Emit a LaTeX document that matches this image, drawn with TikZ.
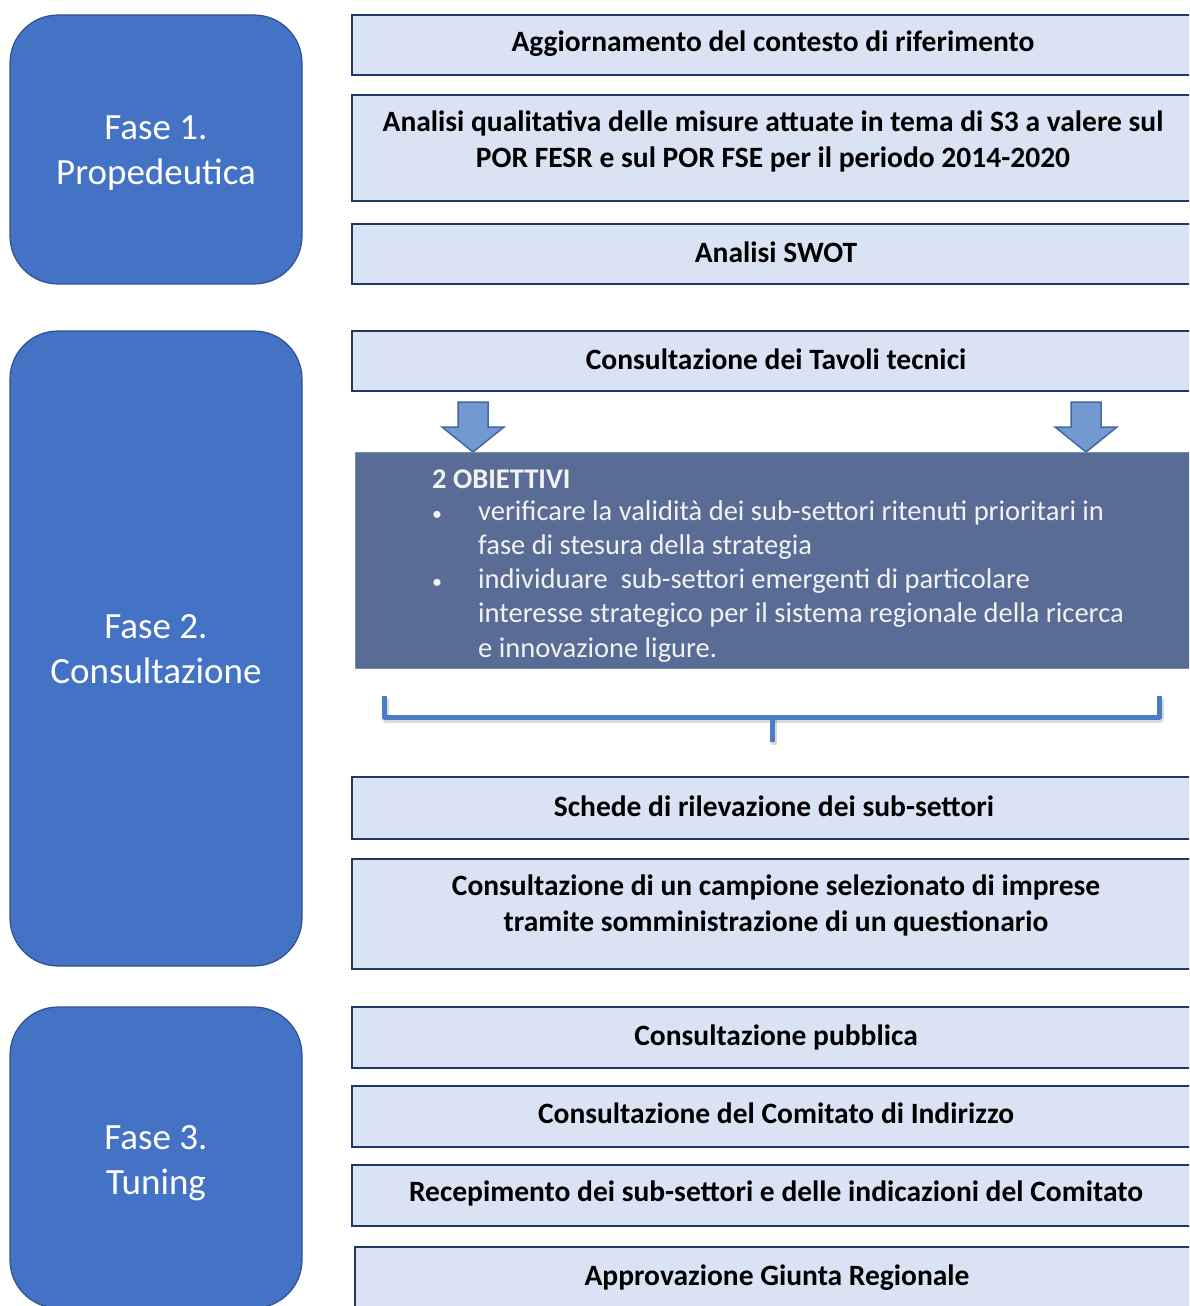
\documentclass[tikz,border=0pt]{standalone}
\usepackage{fontspec}
\setmainfont{Carlito}
\definecolor{phasefill}{RGB}{68,114,196}
\definecolor{phaseborder}{RGB}{47,82,143}
\definecolor{boxfill}{RGB}{218,227,243}
\definecolor{boxborder}{RGB}{31,56,100}
\definecolor{darkfill}{RGB}{89,108,150}
\definecolor{darkborder}{RGB}{120,138,178}
\definecolor{objtext}{RGB}{242,242,242}
\definecolor{arrfill}{RGB}{114,153,210}
\definecolor{arrborder}{RGB}{65,105,160}
\definecolor{bracecol}{RGB}{74,126,196}
\begin{document}
\begin{tikzpicture}[x=1pt,y=-1pt,
  phase/.style={draw=phaseborder, line width=1.2pt, fill=phasefill, rounded corners=48pt,
    minimum width=292pt, inner sep=0pt},
  phasetext/.style={text=white, font=\fontsize{37}{44}\selectfont, anchor=base, inner sep=0pt},
  rbox/.style={draw=boxborder, line width=2.6pt, fill=boxfill, minimum width=843pt, inner sep=0pt},
  rtext/.style={font=\bfseries\fontsize{29.5}{36}\selectfont, text=black, anchor=base, inner sep=0pt},
  darkbox/.style={draw=darkborder, line width=0.8pt, fill=darkfill, inner sep=0pt},
  objline/.style={text=objtext, font=\fontsize{28.5}{34}\selectfont, anchor=base west, inner sep=0pt},
  objbullet/.style={text=objtext, font=\fontsize{20}{20}\selectfont, anchor=base, inner sep=0pt},
  blockarrow/.style={draw=arrborder, line width=1.5pt, fill=arrfill, line join=miter},
  bracesty/.style={draw=bracecol, line width=5pt, line join=round},
  braceshadow/.style={draw=black, opacity=0.15, line width=6pt, line join=round}
]
\clip (0,0) rectangle (1189,1306);
\fill[white] (0,0) rectangle (1189,1306);

% phases
\node[phase, minimum height=269pt] (p1) at (156,149.5) {};
\node[phasetext] (p1a) at (156,139) {Fase 1.};
\node[phasetext] (p1b) at (156,184) {Propedeutica};
\node[phase, minimum height=635pt] (p2) at (156,648.5) {};
\node[phasetext] (p2a) at (156,638) {Fase 2.};
\node[phasetext] (p2b) at (156,683) {Consultazione};
\node[phase, minimum height=301pt] (p3) at (156,1157.5) {};
\node[phasetext] (p3a) at (156,1149) {Fase 3.};
\node[phasetext] (p3b) at (156,1194) {Tuning};

% right boxes
\node[rbox, minimum height=60pt] (b1) at (773.5,45) {};
\node[rtext] (t1) at (773,51.5) {Aggiornamento del contesto di riferimento};
\node[rbox, minimum height=106pt] (b2) at (773.5,148) {};
\node[rtext] (t2a) at (773,131.5) {Analisi qualitativa delle misure attuate in tema di S3 a valere sul};
\node[rtext] (t2b) at (773,167.5) {POR FESR e sul POR FSE per il periodo 2014-2020};
\node[rbox, minimum height=60pt] (b3) at (773.5,254) {};
\node[rtext] (t3) at (776,262.5) {Analisi SWOT};
\node[rbox, minimum height=60pt] (b4) at (773.5,361) {};
\node[rtext] (t4) at (776,369.5) {Consultazione dei Tavoli tecnici};

% block arrows
\coordinate (a1) at (473,402);
\coordinate (a2) at (1086,402);
\foreach \c in {a1,a2}{
  \draw[blockarrow] ([xshift=-15pt]\c) -- ([xshift=15pt]\c) -- ([xshift=15pt,yshift=-25pt]\c)
    -- ([xshift=31pt,yshift=-25pt]\c) -- ([yshift=-50pt]\c) -- ([xshift=-31pt,yshift=-25pt]\c)
    -- ([xshift=-15pt,yshift=-25pt]\c) -- cycle;
}

% dark objectives box
\node[darkbox, minimum width=840pt, minimum height=216pt] (obj) at (775,560) {};
\node[objline, font=\bfseries\fontsize{28.5}{34}\selectfont] (o0) at (432,488.5) {2 OBIETTIVI};
\node[objbullet] (k1) at (437,520) {•};
\node[objline] (o1) at (478,520) {verificare la validità dei sub-settori ritenuti prioritari in};
\node[objline] (o2) at (478,554) {fase di stesura della strategia};
\node[objbullet] (k2) at (437,588) {•};
\node[objline] (o3) at (478,588) {individuare\ \ sub-settori emergenti di particolare};
\node[objline] (o4) at (478,622) {interesse strategico per il sistema regionale della ricerca};
\node[objline] (o5) at (478,657) {e innovazione ligure.};

% brace
\coordinate (bl) at (384,696);
\coordinate (br) at (1159,696);
\coordinate (bm) at (772,717);
\coordinate (bt) at (772,742);
\draw[braceshadow] ([shift={(1.5,2.5)}]bl) |- ([shift={(1.5,2.5)}]bm) -| ([shift={(1.5,2.5)}]br);
\draw[braceshadow] ([shift={(1.5,2.5)}]bm) -- ([shift={(1.5,2.5)}]bt);
\draw[bracesty] (bl) |- (bm) -| (br);
\draw[bracesty] (bm) -- (bt);

% lower boxes
\node[rbox, minimum height=62pt] (b5) at (773.5,808) {};
\node[rtext] (t5) at (774,816.5) {Schede di rilevazione dei sub-settori};
\node[rbox, minimum height=110pt] (b6) at (773.5,914) {};
\node[rtext] (t6a) at (776,895.5) {Consultazione di un campione selezionato di imprese};
\node[rtext] (t6b) at (776,931.5) {tramite somministrazione di un questionario};
\node[rbox, minimum height=61pt] (b7) at (773.5,1037.5) {};
\node[rtext] (t7) at (776,1045.5) {Consultazione pubblica};
\node[rbox, minimum height=61pt] (b8) at (773.5,1116.5) {};
\node[rtext] (t8) at (776,1123.5) {Consultazione del Comitato di Indirizzo};
\node[rbox, minimum height=61pt] (b9) at (773.5,1195.5) {};
\node[rtext] (t9) at (776,1201.5) {Recepimento dei sub-settori e delle indicazioni del Comitato};
\node[rbox, minimum width=840pt, minimum height=73pt] (b10) at (775,1283.5) {};
\node[rtext] (t10) at (777,1285.5) {Approvazione Giunta Regionale};
\end{tikzpicture}
\end{document}
